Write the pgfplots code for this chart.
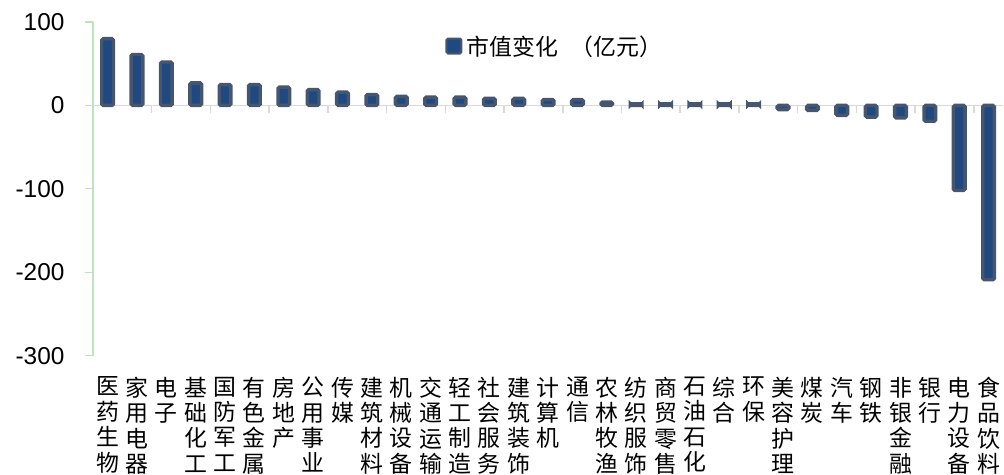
\documentclass[border=0pt]{standalone}
\usepackage{pgfplots}
\pgfplotsset{compat=1.18}
\usepackage{fontspec}
\setmainfont{Liberation Sans}
\newfontfamily\cjk{Noto Sans CJK SC}
\definecolor{barfill}{RGB}{31,73,128}
\definecolor{barline}{RGB}{70,86,110}
\definecolor{yline}{RGB}{190,225,190}
\definecolor{zline}{RGB}{217,217,217}

\begin{document}
\begin{tikzpicture}
\begin{axis}[
    name=main,
    scale only axis,
    width=911bp, height=334bp,
    xmin=-0.5, xmax=30.5,
    ymin=-300, ymax=100,
    ytick={-300,-200,-100,0,100},
    axis x line=bottom,
    axis y line=left,
    x axis line style={draw=none,-},
    y axis line style={yline,line width=1.2bp,-},
    ytick style={yline,line width=1.2bp},
    tick align=outside,
    major tick length=8bp,
    xtick=data,
    xtick style={draw=none},
    xticklabels={
      {医\\药\\生\\物},{家\\用\\电\\器},{电\\子},{基\\础\\化\\工},{国\\防\\军\\工},
      {有\\色\\金\\属},{房\\地\\产},{公\\用\\事\\业},{传\\媒},{建\\筑\\材\\料},
      {机\\械\\设\\备},{交\\通\\运\\输},{轻\\工\\制\\造},{社\\会\\服\\务},{建\\筑\\装\\饰},
      {计\\算\\机},{通\\信},{农\\林\\牧\\渔},{纺\\织\\服\\饰},{商\\贸\\零\\售},
      {石\\油\\石\\化},{综\\合},{环\\保},{美\\容\\护\\理},{煤\\炭},
      {汽\\车},{钢\\铁},{非\\银\\金\\融},{银\\行},{电\\力\\设\\备},{食\\品\\饮\\料}},
    xticklabel style={align=center,anchor=north,inner sep=0pt,yshift=-13bp,
      font=\cjk\fontsize{23}{25.5}\selectfont},
    yticklabel style={font=\fontsize{24.5}{28}\selectfont,xshift=-17bp},
    /pgf/number format/assume math mode=true,
    extra y ticks={0},
    extra y tick labels={},
    extra y tick style={grid=major,major grid style={zline,line width=1.5bp}},
    legend style={at={(0.387,0.928)},anchor=west,draw=none,fill=none,
      font=\cjk\fontsize{23}{26}\selectfont,inner sep=0pt,
      legend cell align=left,
      nodes={inner xsep=4bp}},
    legend image code/.code={\draw[fill=barfill,draw=barline,line width=2bp,rounded corners=1.5bp] (0bp,-7.5bp) rectangle (15bp,7.5bp);},
]
\pgfplotsinvokeforeach{1.5,3.5,...,29.5}{
  \draw[zline,line width=1.5bp] (axis cs:#1,0) -- ([yshift=-8bp]axis cs:#1,0);
}
\addplot[ybar,bar width=11.7bp,fill=barfill,draw=barline,line width=3.4bp,rounded corners=1.5bp]
coordinates {
(0,80)(1,61)(2,52)(3,27)(4,25)(5,25)(6,22)(7,19)(8,16)(9,13)
(10,11)(11,10)(12,10)(13,8.5)(14,8.5)(15,7)(16,7)(17,4)(18,2)(19,2)
(20,2)(21,2)(22,2)(23,-5)(24,-6)(25,-12)(26,-14)(27,-15)(28,-19)(29,-102)(30,-209)
};
\addlegendentry{市值变化\hspace{13bp}（亿元）}
\end{axis}
\useasboundingbox ([xshift=-93bp,yshift=-115bp]main.south west) rectangle ([yshift=22bp]main.north east);
\end{tikzpicture}
\end{document}
